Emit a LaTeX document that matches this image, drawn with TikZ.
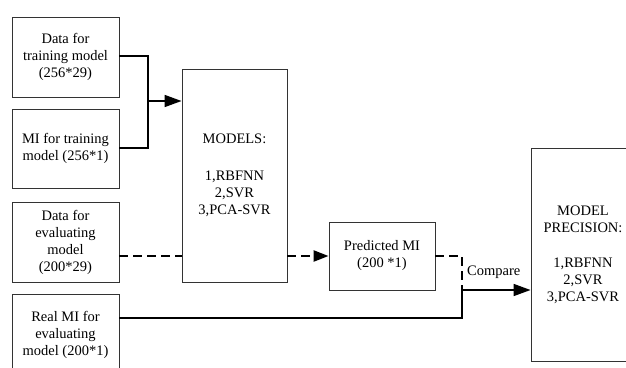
\documentclass[tikz,border=0pt]{standalone}
\usepackage{fontspec}
\setmainfont{Liberation Serif}
\usetikzlibrary{arrows.meta}
\begin{document}
\begin{tikzpicture}[x=1pt,y=-1pt,
  box/.style={draw=black!80, line width=0.9pt, rectangle, inner sep=0pt, align=center,
    font=\fontsize{14.5}{17}\selectfont},
  solidline/.style={line width=1.6pt, black},
  dashline/.style={line width=2.4pt, black, dash pattern=on 9pt off 5pt},
  bigtip/.style={-{Triangle[length=17pt,width=12pt]}}
]
\useasboundingbox (0,0) rectangle (626,367);
\clip (0,0) rectangle (626,367);
\fill[white] (0,0) rectangle (626,367);

\node[box, minimum width=107pt, minimum height=80pt] (d1) at (65.5,57) {Data for\\training model\\(256*29)};
\node[box, minimum width=107pt, minimum height=79pt] (d2) at (65.5,148.5) {MI for training\\model (256*1)};
\node[box, minimum width=107pt, minimum height=80pt] (d3) at (65.5,242) {Data for\\evaluating\\model\\(200*29)};
\node[box, minimum width=107pt, minimum height=82pt] (d4) at (65.5,335) {Real MI for\\evaluating\\model (200*1)};
\node[box, minimum width=105pt, minimum height=213pt] (models) at (234.5,175.5) {MODELS:\\[20pt]1,RBFNN\\2,SVR\\3,PCA-SVR};
\node[box, minimum width=106pt, minimum height=68pt] (pred) at (382,256) {Predicted MI\\(200 *1)};
\node[box, minimum width=104pt, minimum height=213pt] (prec) at (583,254.5) {MODEL\\PRECISION:\\[18pt]1,RBFNN\\2,SVR\\3,PCA-SVR};

% training inputs
\coordinate (j1) at (148,101);
\draw[solidline] (d1.east |- 0,56) -- (148,56) -- (148,148) -- (d2.east |- 0,148);
\draw[solidline, bigtip] (j1) -- (j1 -| models.west);

% evaluating data (dashed)
\draw[dashline] (d3.east |- pred.west) -- (models.west |- pred.west);
\draw[dashline, -{Triangle[length=15pt,width=11pt]}] (models.east |- pred.west) -- (pred.west);

% compare
\coordinate (j2) at (462,290);
\draw[dashline] (pred.east) -- (pred.east -| j2) -- (j2);
\draw[solidline] (d4.east |- 0,318) -- (462,318) -- (j2);
\draw[solidline, bigtip] (j2) -- (j2 -| prec.west);
\node[font=\fontsize{14.5}{17}\selectfont, anchor=west, inner sep=0pt] (cmp) at (467,272) {Compare};
\end{tikzpicture}
\end{document}
